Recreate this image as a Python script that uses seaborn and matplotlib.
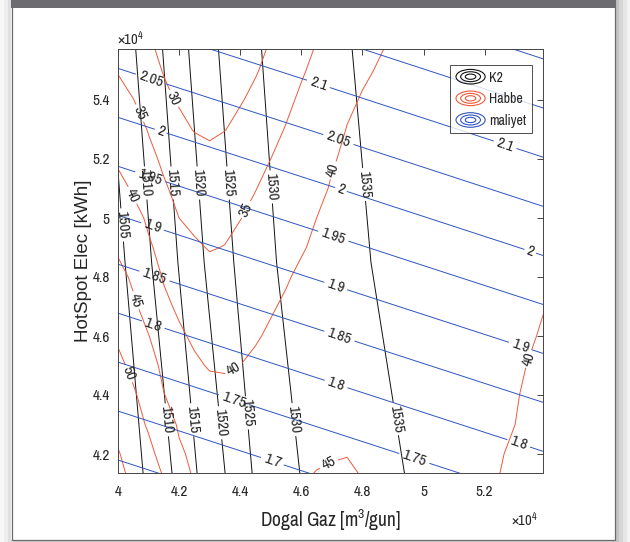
import numpy as np
import matplotlib
matplotlib.use("Agg")
import matplotlib.pyplot as plt
import seaborn as sns
from matplotlib.lines import Line2D
from matplotlib.patches import Ellipse, Rectangle
from matplotlib.legend_handler import HandlerBase

# ---------------- data (x and y in units of 1e4) ----------------
# maliyet (cost) field
cost_x = [4.0, 4.7, 5.4]
cost_y = [4.1, 4.85, 5.6]
cost_grid = [[1.626, 1.697, 1.768],
             [1.852, 1.923, 1.994],
             [2.078, 2.148, 2.219]]
cost_levels = [1.65, 1.7, 1.75, 1.8, 1.85, 1.9, 1.95, 2.0, 2.05, 2.1, 2.15, 2.2]

# K2: x position of each K2 level, read at three heights
k2_levels = [1500, 1505, 1510, 1515, 1520, 1525, 1530, 1535, 1538]
k2_row_y = [4.1, 4.85, 5.6]
k2_x_bottom = [3.990, 4.085, 4.180, 4.262, 4.354, 4.442, 4.599, 4.943, 5.447]
k2_x_middle = [3.935, 4.023, 4.110, 4.196, 4.282, 4.379, 4.519, 4.828, 5.447]
k2_x_top = [3.879, 3.967, 4.056, 4.144, 4.229, 4.327, 4.468, 4.764, 5.447]

# Habbe field, values read on a grid
habbe_x = [4.0, 4.05, 4.1, 4.15, 4.2, 4.25, 4.3, 4.35, 4.4, 4.45, 4.5, 4.55, 4.6, 4.65,
           4.7, 4.75, 4.8, 4.9, 5.0, 5.1, 5.2, 5.3, 5.4]
habbe_y = [4.1, 4.2, 4.3, 4.4, 4.5, 4.6, 4.7, 4.8, 4.9, 5.0, 5.1, 5.2, 5.3, 5.4, 5.5, 5.6]
habbe_grid = [
    [56.5, 54.3, 52.2, 50.2, 47.4, 44.9, 44.4, 44.0, 44.2, 44.4, 44.6, 44.8, 44.9, 45.5, 46.1, 45.8, 45.1, 44.0, 42.8, 41.7, 40.6, 39.2, 37.7],
    [55.3, 53.2, 51.1, 48.5, 45.5, 44.3, 43.5, 43.0, 43.2, 43.4, 43.7, 43.9, 44.2, 44.4, 44.6, 44.9, 44.4, 43.5, 42.6, 41.6, 40.7, 39.6, 38.1],
    [53.8, 51.7, 49.5, 46.7, 44.6, 43.5, 42.4, 41.9, 42.2, 42.5, 42.8, 43.0, 43.3, 43.6, 43.9, 44.2, 44.3, 43.5, 42.6, 41.7, 40.9, 40.0, 38.5],
    [52.5, 50.6, 48.0, 45.1, 43.8, 42.6, 41.3, 40.8, 41.2, 41.6, 41.9, 42.3, 42.7, 43.0, 43.4, 43.8, 44.2, 43.7, 42.8, 41.9, 41.1, 40.2, 38.8],
    [51.1, 48.9, 46.4, 44.2, 42.4, 40.6, 39.7, 39.7, 40.0, 40.4, 40.9, 41.4, 41.8, 42.3, 42.8, 43.2, 43.7, 43.9, 43.0, 42.2, 41.3, 40.4, 39.3],
    [49.3, 47.2, 45.1, 42.9, 40.6, 39.4, 38.6, 38.7, 39.3, 39.8, 40.3, 40.8, 41.3, 41.8, 42.2, 42.7, 43.2, 44.1, 43.2, 42.4, 41.5, 40.7, 39.7],
    [47.8, 45.7, 43.4, 40.8, 39.4, 38.4, 37.4, 37.7, 38.4, 39.1, 39.8, 40.3, 40.8, 41.3, 41.8, 42.3, 42.7, 43.7, 43.4, 42.6, 41.7, 40.9, 40.0],
    [46.4, 44.3, 41.9, 39.7, 38.6, 37.4, 36.2, 36.6, 37.4, 38.2, 39.0, 39.8, 40.4, 40.9, 41.3, 41.8, 42.3, 43.3, 43.6, 42.8, 41.9, 41.1, 40.3],
    [44.3, 42.4, 40.5, 38.8, 37.2, 35.5, 34.8, 35.1, 36.1, 37.0, 38.0, 38.9, 39.8, 40.4, 40.9, 41.4, 41.8, 42.8, 43.8, 43.0, 42.1, 41.3, 40.5],
    [43.2, 41.3, 39.4, 37.1, 35.0, 34.2, 33.5, 34.1, 34.9, 35.9, 36.9, 38.0, 39.0, 40.0, 40.5, 41.0, 41.4, 42.4, 43.3, 43.1, 42.3, 41.5, 40.7],
    [41.4, 39.5, 37.4, 35.4, 34.1, 33.1, 32.1, 33.0, 34.0, 34.9, 36.0, 37.2, 38.3, 39.4, 40.2, 40.7, 41.1, 42.0, 42.9, 43.3, 42.5, 41.7, 40.9],
    [39.3, 37.6, 35.9, 34.4, 33.1, 31.8, 30.8, 31.9, 32.9, 34.0, 35.0, 36.2, 37.4, 38.6, 39.8, 40.4, 40.8, 41.7, 42.5, 43.4, 42.7, 41.9, 41.1],
    [38.4, 36.6, 34.8, 33.0, 31.1, 29.8, 29.5, 29.9, 31.1, 32.5, 33.9, 35.2, 36.5, 37.8, 39.0, 40.1, 40.5, 41.3, 42.2, 43.0, 42.9, 42.1, 41.3],
    [36.9, 35.1, 32.9, 30.8, 29.6, 28.9, 28.4, 29.1, 29.7, 30.9, 32.5, 34.2, 35.6, 36.9, 38.2, 39.5, 40.2, 41.0, 41.8, 42.6, 43.1, 42.3, 41.5],
    [34.7, 33.0, 31.3, 29.8, 28.8, 27.9, 27.3, 28.1, 28.9, 29.7, 31.1, 32.8, 34.6, 35.9, 37.2, 38.4, 39.6, 40.7, 41.4, 42.2, 43.0, 42.4, 41.7],
    [33.8, 32.1, 30.3, 29.1, 28.0, 26.9, 26.2, 27.1, 28.1, 29.1, 30.1, 31.7, 33.4, 35.0, 36.2, 37.4, 38.6, 40.3, 41.1, 41.8, 42.6, 42.6, 41.8],
]
habbe_levels = [30, 35, 40, 45, 50, 55]

x_ticks = [4.0, 4.2, 4.4, 4.6, 4.8, 5.0, 5.2]
y_ticks = [4.2, 4.4, 4.6, 4.8, 5.0, 5.2, 5.4]
legend_labels = ["K2", "Habbe", "maliyet"]

# ---------------- style ----------------
sns.set_theme(style="white")
plt.rcParams["font.family"] = ["Archivo Narrow", "Liberation Sans", "DejaVu Sans"]
plt.rcParams["mathtext.default"] = "regular"
TXT = "#262626"
RED = "#EE5a3c"
BLUE = "#2f55c0"
BLACK = "#111111"

W, H = 630, 542
fig = plt.figure(figsize=(W/100, H/100), dpi=100)
fig.patch.set_facecolor("white")

def frect(x0, y0, x1, y1, color, z=-10, ec="none", lw=0):
    fig.patches.append(Rectangle((x0/W, 1-y1/H), (x1-x0)/W, (y1-y0)/H, transform=fig.transFigure,
                                 facecolor=color, edgecolor=ec, linewidth=lw, zorder=z))
for (a, b, c) in [(0, 4, "#f8f8f8"), (4, 8, "#eeeeee"), (8, 11, "#e0e0e0")]:
    frect(a, 0, b, H, c)
for (a, b, c) in [(615, 619, "#c4c4c4"), (619, 623, "#d6d6d6"), (623, 627, "#e6e6e6"), (627, 630, "#f3f3f3")]:
    frect(a, 0, b, H, c)
frect(11, 540, 615, H, "#d2d2d2")
frect(11.5, 0, 614.5, 539.5, "white", z=-9, ec="#6a6a6a", lw=0.9)
frect(11, 0, 615, 8, "#6b6b70", z=-8)

ax = fig.add_axes([118/W, 1-473/H, 425/W, 424/H])
ax.set_facecolor("white")

def px2x(px): return 4.0 + (px-118)/305.5
def py2y(py): return 5.4 - (py-100)/295.0

KX = np.array([k2_x_bottom, k2_x_middle, k2_x_top])
KY = np.repeat(np.array(k2_row_y)[:, None], len(k2_levels), axis=1)
KZ = np.tile(np.array(k2_levels, float), (len(k2_row_y), 1))
cs_k = ax.contour(KX, KY, KZ, levels=k2_levels[1:-1], colors=BLACK, linewidths=0.7)
cs_h = ax.contour(habbe_x, habbe_y, np.array(habbe_grid), levels=habbe_levels, colors=RED, linewidths=0.7)
cs_c = ax.contour(cost_x, cost_y, np.array(cost_grid), levels=cost_levels, colors=BLUE, linewidths=0.7)

k2_lab = [(122, 225), (145, 183), (172, 183), (198, 183), (228, 183), (270, 187), (357, 185),
          (165, 420), (190, 420), (217, 423), (245, 413), (290, 420), (387, 420)]
c_lab = [(150, 82), (160, 133), (148, 183), (150, 233), (153, 280), (152, 328), (232, 405), (272, 462),
         (318, 85), (337, 143), (340, 192), (333, 237), (335, 288), (338, 340), (335, 387), (413, 462),
         (505, 145), (530, 252), (520, 347), (518, 445)]
h_lab = [(170, 100), (140, 113), (247, 210), (133, 195), (236, 372), (332, 170), (137, 300),
         (130, 373), (329, 464), (533, 360)]
for cs, labs in [(cs_k, k2_lab), (cs_h, h_lab), (cs_c, c_lab)]:
    ax.clabel(cs, inline=True, inline_spacing=2, fontsize=11, colors=TXT, fmt="%g",
              manual=[(px2x(a), py2y(b)) for a, b in labs])

ax.set_xlim(4.0, px2x(543))
ax.set_ylim(py2y(473), py2y(49))
ax.set_xticks(x_ticks)
ax.set_yticks(y_ticks)
ax.set_xticklabels(["%g" % v for v in x_ticks])
ax.set_yticklabels(["%g" % v for v in y_ticks])
ax.tick_params(axis="both", direction="in", length=4, width=0.6, top=True, right=True,
               labelsize=11, colors=TXT)
ax.tick_params(axis="x", pad=9)
ax.tick_params(axis="y", pad=6)
for s in ax.spines.values():
    s.set_color("#444444")
    s.set_linewidth(0.7)
ax.set_xlabel("Dogal Gaz [m$^{3}$/gun]", fontsize=14, color=TXT, labelpad=6)
ax.set_ylabel("HotSpot Elec [kWh]", fontsize=13.5, color=TXT, labelpad=0,
              family=["Liberation Sans", "DejaVu Sans"])
fig.text(117/W, 1-39/H, r"$\times10^{4}$", fontsize=10.5, color=TXT, va="center", ha="left")
fig.text(511/W, 1-520/H, r"$\times10^{4}$", fontsize=10.5, color=TXT, va="center", ha="left")

class HandlerRings(HandlerBase):
    def create_artists(self, legend, orig_handle, xdescent, ydescent, width, height, fontsize, trans):
        col = orig_handle.get_color()
        cx, cy = width/2 - xdescent, height/2 - ydescent
        out = []
        for f in (1.0, 0.68, 0.36):
            out.append(Ellipse((cx, cy), width*f, height*1.5*f, fill=False, edgecolor=col,
                               lw=0.8, transform=trans))
        return out

handles = [Line2D([], [], color=BLACK), Line2D([], [], color=RED), Line2D([], [], color=BLUE)]
leg = ax.legend(handles, legend_labels, loc="upper right",
                bbox_to_anchor=((532-118)/425, 1-(65-49)/424), borderaxespad=0,
                handler_map={Line2D: HandlerRings()}, fontsize=10, frameon=True, fancybox=False,
                handlelength=2.1, handletextpad=0.3, labelspacing=0.55, borderpad=0.4)
leg.get_frame().set_edgecolor("#222222")
leg.get_frame().set_linewidth(0.7)
for t in leg.get_texts():
    t.set_color(TXT)

fig.savefig("out.png", dpi=100, facecolor=fig.get_facecolor())
